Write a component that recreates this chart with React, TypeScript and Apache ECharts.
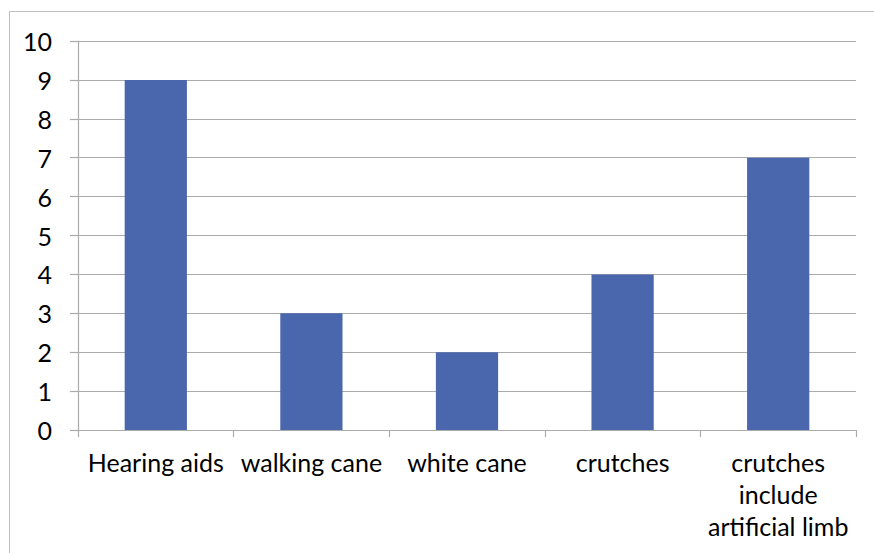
import React, { useEffect, useRef } from "react";
import * as echarts from "echarts";

const categories = [
  "Hearing aids",
  "walking cane",
  "white cane",
  "crutches",
  "crutches\ninclude\nartificial limb",
];
const values = [9, 3, 2, 4, 7];
const yTicks = { min: 0, max: 10, interval: 1 };

export default function App() {
  const ref = useRef<HTMLDivElement>(null);
  useEffect(() => {
    const chart = echarts.init(ref.current!, null, { renderer: "svg" });
    const font = "Lato, 'Open Sans', sans-serif";
    chart.setOption({
      animation: false,
      backgroundColor: "#ffffff",
      graphic: [
        {
          type: "rect",
          shape: { x: 9.5, y: 11.5, width: 900, height: 600 },
          style: { fill: "none", stroke: "#BFBFBF", lineWidth: 1 },
          silent: true,
        },
      ],
      grid: { left: 78, right: 18, top: 41, bottom: 123 },
      xAxis: {
        type: "category",
        data: categories,
        axisLine: { show: true, lineStyle: { color: "#ABABAB", width: 1.2 } },
        axisTick: { show: true, length: 7, lineStyle: { color: "#ABABAB", width: 1.2 } },
        axisLabel: {
          color: "#000000",
          fontFamily: font,
          fontSize: 25,
          lineHeight: 32,
          margin: 16,
          interval: 0,
        },
      },
      yAxis: {
        type: "value",
        min: yTicks.min,
        max: yTicks.max,
        interval: yTicks.interval,
        axisLine: { show: true, lineStyle: { color: "#ABABAB", width: 1.2 } },
        axisTick: { show: true, length: 8, lineStyle: { color: "#ABABAB", width: 1.2 } },
        splitLine: { show: true, lineStyle: { color: "#ABABAB", width: 1.2 } },
        axisLabel: {
          color: "#000000",
          fontFamily: font,
          fontSize: 25,
          margin: 26,
        },
      },
      series: [
        {
          type: "bar",
          data: values,
          barWidth: "40%",
          itemStyle: { color: "#4A66AC" },
        },
      ],
    });
    return () => chart.dispose();
  }, []);
  return (
    <div
      ref={ref}
      style={{ position: "fixed", left: 0, top: 0, width: 874, height: 553 }}
    />
  );
}
